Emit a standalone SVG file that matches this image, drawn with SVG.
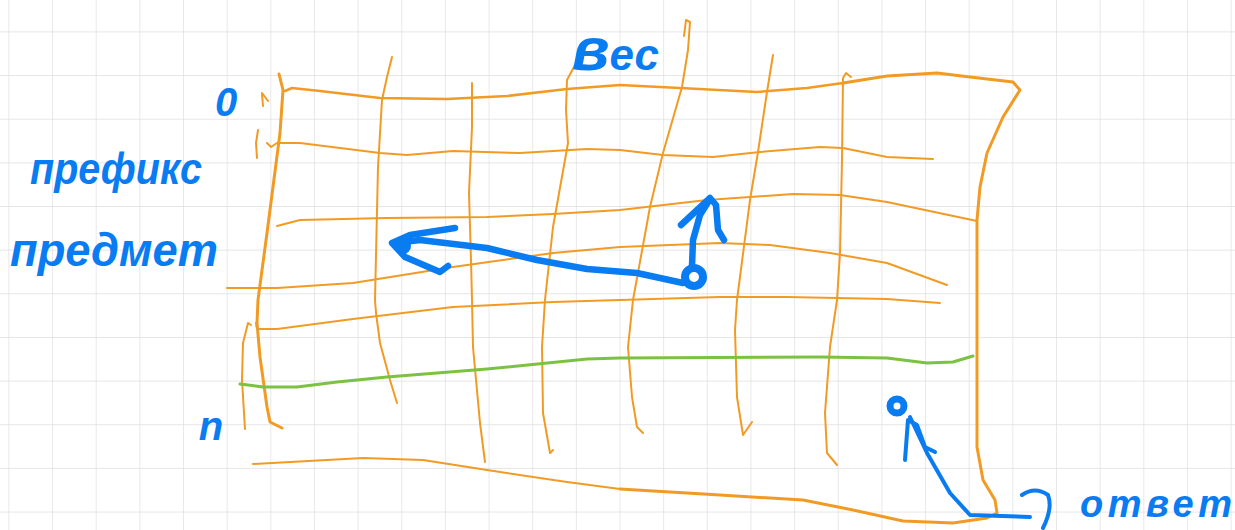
<svg xmlns="http://www.w3.org/2000/svg" width="1235" height="530" viewBox="0 0 1235 530">
<defs>
<pattern id="grid" x="8.4" y="31.4" width="43.65" height="43.65" patternUnits="userSpaceOnUse">
<path d="M0 0 H43.65 M0 0 V43.65" fill="none" stroke="#dedede" stroke-width="1.4"/>
</pattern>
<style>
.o{fill:none;stroke:#f29b24;stroke-width:2;stroke-linecap:round;stroke-linejoin:round}
.ob{fill:none;stroke:#f29b24;stroke-width:3;stroke-linecap:round;stroke-linejoin:round}
.g{fill:none;stroke:#7cc242;stroke-width:3;stroke-linecap:round;stroke-linejoin:round}
.b{fill:none;stroke:#0a7cf2;stroke-width:6.5;stroke-linecap:round;stroke-linejoin:round}
.bt{fill:none;stroke:#0a7cf2;stroke-width:4;stroke-linecap:round;stroke-linejoin:round}
.t{fill:#0a7cf2;font-family:"Liberation Sans",Arial,sans-serif;font-style:italic;font-weight:bold}
</style>
</defs>
<rect width="1235" height="530" fill="#ffffff"/>
<rect width="1235" height="530" fill="url(#grid)"/>

<g id="table">
<polyline class="o" style="stroke-width:2.5" points="285,91 292,88 320,91 380,98 447,99 507,96 567,89 620,85 680,88 757,92 807,88 843,83"/>
<polyline class="ob" points="843,83 887,76 937,73 970,77 1013,82 1020,90 1003,117 987,153 980,187 977,220 977,300 977,380 977,447 983,480 995,500 997,513 987,518 953,523 903,521 853,510 803,500 720,495 620,489"/>
<polyline class="o" points="620,489 567,482 487,470 423,460 363,458 253,464"/>
<polyline class="o" points="267,143 271,147 277,143 300,143 380,153 407,155 453,151 520,153 587,149 620,150 663,155 713,157 760,152 820,147 843,148 887,157 933,159"/>
<polyline class="o" points="277,226 300,220 387,218 487,217 553,214 620,210 707,200 793,194 840,195 887,202 977,221"/>
<polyline class="o" points="227,288 277,288 353,283 453,267 553,253 620,247 720,243 770,245 830,253 887,263 947,285"/>
<polyline class="o" points="256,323 257,329 277,329 353,319 453,307 553,302 620,300 720,297 787,297 887,299 940,303"/>
<polyline class="o" points="245,429 242,380 243,343 248,323 251,325"/>
<polyline class="o" points="262,93 268,101"/>
<polyline class="o" points="262,94 263,106"/>
<polyline class="o" points="258,130 256,143 257,158"/>
<polyline class="ob" points="279,74 283,90 280,133 267,233 258,300 257,323 260,357 267,407 270,422 282,428"/>
<polyline class="o" points="392,57 387,77 382,100 378,167 375,300 376,313 380,343 390,380 397,403"/>
<polyline class="o" points="472,83 472,127 469,193 471,260 472,300 473,347 480,423 485,462"/>
<polyline class="o" points="575,65 567,80 566,110 568,143 553,227 545,300 542,347 543,413 550,453 553,450"/>
<polyline class="o" points="684,36 686,20 690,22 688,50 682,87 663,153 650,207 633,300 628,347 632,397 637,427 643,433"/>
<polyline class="o" points="773,55 767,92 758,152 750,200 737,300 735,330 737,397 743,435 752,422"/>
<polyline class="o" points="851,77 846,73 843,78 842,160 840,253 837,300 830,347 825,413 827,453 837,465"/>
<polyline class="g" points="240,384 263,387 297,387 337,382 387,377 487,369 587,359 620,358 820,357 887,358 927,363 953,362 973,356"/>
</g>

<g id="labels">
<text class="t" x="226" y="116" font-size="40" text-anchor="middle">0</text>
<text class="t" x="30" y="184" font-size="44" textLength="172" lengthAdjust="spacingAndGlyphs">префикс</text>
<text class="t" x="10" y="266" font-size="46" textLength="208" lengthAdjust="spacingAndGlyphs">предмет</text>
<text class="t" x="211" y="440" font-size="40" text-anchor="middle">n</text>
<text class="t" x="572" y="70" font-size="44"><tspan font-size="62">в</tspan>ес</text>
<text class="t" x="1080" y="517" font-size="38" textLength="152" lengthAdjust="spacing">ответ</text>
</g>

<g id="connectors">
<polyline class="b" points="683,283 637,273 587,269 537,260 487,248 420,240 395,243"/>
<polyline class="b" points="455,228 410,235 392,243 405,257 440,272 448,266"/>
<circle cx="403" cy="246" r="8" fill="#0a7cf2"/>
<circle cx="694" cy="277" r="9" fill="none" stroke="#0a7cf2" stroke-width="8"/>
<polyline class="b" points="692,266 693,240 700,215 710,199"/>
<polyline class="b" points="681,225 710,198 716,205 718,230 724,240"/>
<circle cx="897" cy="406" r="7" fill="none" stroke="#0a7cf2" stroke-width="7"/>
<polyline class="bt" points="1030,517 970,515 950,493 927,453 910,417"/>
<polyline class="bt" points="905,460 908,420 917,425 925,447 935,452"/>
<path class="bt" d="M1022,495 Q1035,486 1048,495 Q1053,508 1043,528"/>
</g>
</svg>
